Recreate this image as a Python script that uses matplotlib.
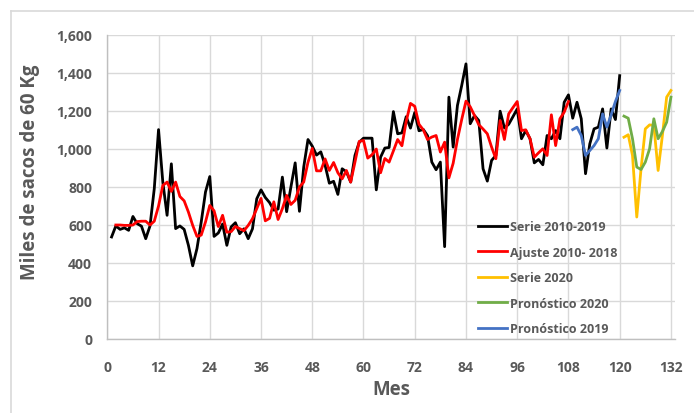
import matplotlib
matplotlib.use('Agg')
import matplotlib.pyplot as plt
from matplotlib.lines import Line2D
from matplotlib.ticker import FuncFormatter
import numpy as np

plt.rcParams['font.family'] = ['Open Sans', 'DejaVu Sans']

# monthly exports, thousands of 60 kg bags
serie_meses = list(range(1, 121))
serie = [537, 595, 577, 585, 572, 645, 607, 594, 528, 595, 791, 1102,
         826, 651, 922, 581, 595, 577, 493, 385, 476, 616, 774, 855,
         540, 558, 605, 493, 590, 612, 554, 580, 528, 580, 738, 785,
         745, 718, 678, 684, 852, 670, 800, 927, 672, 905, 1050, 1015,
         968, 985, 915, 820, 830, 761, 896, 880, 826, 966, 1036, 1057,
         1057, 1057, 785, 957, 1005, 1008, 1197, 1080, 1085, 1170, 1110, 1192,
         1096, 1103, 1070, 931, 891, 931, 486, 1273, 1010, 1229, 1334, 1448,
         1133, 1176, 1150, 896, 831, 940, 966, 1199, 1111, 1130, 1170, 1211,
         1054, 1097, 1054, 927, 945, 917, 1071, 1054, 1097, 1054, 1246, 1285,
         1162, 1246, 1159, 870, 1027, 1106, 1115, 1211, 1005, 1211, 1155, 1386]

ajuste_meses = list(range(2, 109))
ajuste = [600, 600, 598, 598, 600, 618, 620, 620, 600, 620, 700,
          808, 826, 777, 826, 750, 727, 668, 598, 540, 547, 616, 703,
          675, 592, 651, 562, 565, 592, 581, 570, 598, 633, 686, 740,
          622, 635, 722, 629, 686, 756, 708, 730, 800, 826, 930, 1003,
          885, 885, 948, 887, 929, 875, 843, 887, 826, 931, 1040, 1045,
          952, 970, 1000, 875, 950, 931, 990, 1050, 1017, 1145, 1240, 1225,
          1130, 1101, 1050, 1063, 1071, 984, 1036, 848, 925, 1050, 1155, 1252,
          1222, 1176, 1128, 1105, 1080, 1010, 949, 1150, 1050, 1185, 1218, 1250,
          1097, 1101, 1054, 957, 980, 1001, 966, 1180, 1018, 1159, 1194, 1250]

meses_2019 = list(range(109, 121))
pronostico_2019 = [1102, 1115, 1071, 966, 992, 1018, 1054, 1185, 1115, 1180, 1250, 1308]

meses_2020 = list(range(121, 133))
serie_2020 = [1062, 1075, 966, 642, 896, 1106, 1127, 1124, 887, 1071, 1273, 1308]
pronostico_2020 = [1173, 1162, 1054, 905, 892, 931, 1001, 1159, 1054, 1092, 1141, 1273]

gris = '#595959'
W, H = 694, 414

fig = plt.figure(figsize=(W / 100, H / 100), dpi=100)
ax = fig.add_axes([107.3 / W, 1 - 340 / H, (675.2 - 107.3) / W, 304 / H])

# light frame around the chart area
fig.add_artist(Line2D([11 / W, 1], [1 - 12 / H, 1 - 12 / H], color='#d9d9d9', lw=1.2))
fig.add_artist(Line2D([11 / W, 11 / W], [0, 1 - 12 / H], color='#d9d9d9', lw=1.2))

lw = 2.0
ax.plot(serie_meses, serie, color='black', lw=lw, label='Serie 2010-2019', zorder=3)
ax.plot(ajuste_meses, ajuste, color='#ff0000', lw=lw, label='Ajuste 2010- 2018', zorder=4)
ax.plot(meses_2020, serie_2020, color='#ffc000', lw=lw, label='Serie 2020', zorder=3)
ax.plot(meses_2020, pronostico_2020, color='#70ad47', lw=lw, label='Pronóstico 2020', zorder=4)
ax.plot(meses_2019, pronostico_2019, color='#4472c4', lw=lw, label='Pronóstico 2019', zorder=4)

ax.set_xlim(0, 133)
ax.set_ylim(0, 1600)
ax.set_xticks(np.arange(0, 133, 12))
ax.set_yticks(np.arange(0, 1601, 200))
ax.yaxis.set_major_formatter(FuncFormatter(lambda v, p: '{:,.0f}'.format(v)))
ax.grid(True, color='#d9d9d9', lw=1)
ax.set_axisbelow(True)
for s in ['top', 'right']:
    ax.spines[s].set_visible(False)
for s in ['left', 'bottom']:
    ax.spines[s].set_color('#bfbfbf')
    ax.spines[s].set_linewidth(1)

ax.tick_params(axis='both', length=0, labelsize=10, labelcolor=gris)
ax.tick_params(axis='y', pad=11)
ax.tick_params(axis='x', pad=15)
for t in ax.get_xticklabels() + ax.get_yticklabels():
    t.set_fontweight('bold')

ax.set_xlabel('Mes', fontsize=13.5, fontweight='bold', color=gris)
ax.set_ylabel('Miles de sacos de 60 Kg', fontsize=13.5, fontweight='bold', color=gris)
ax.xaxis.set_label_coords(0.5, -0.13)
ax.yaxis.set_label_coords(-0.118, 0.553)

leg = ax.legend(loc='upper left', bbox_to_anchor=(478 / W, 1 - 221 / H),
                bbox_transform=fig.transFigure, frameon=False, borderpad=0,
                borderaxespad=0, handlelength=2.3, handletextpad=0.3,
                labelspacing=1.0, prop={'size': 9, 'weight': 'bold'})
for t in leg.get_texts():
    t.set_color(gris)

fig.savefig('out.png', dpi=100)
